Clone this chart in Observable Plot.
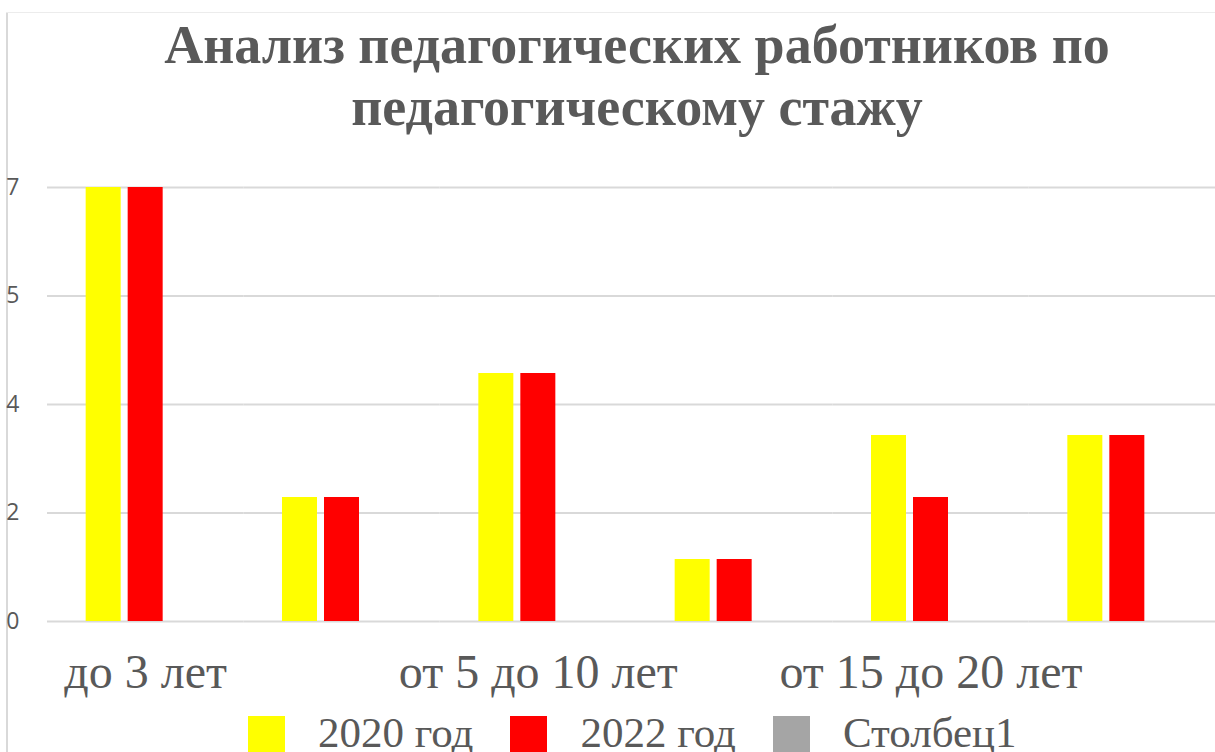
<!DOCTYPE html>
<html>
<head>
<meta charset="utf-8">
<script src="https://cdn.jsdelivr.net/npm/d3@7"></script>
<script src="https://cdn.jsdelivr.net/npm/@observablehq/plot@0.6"></script>
<style>
  html, body { margin: 0; padding: 0; background: #fff; overflow: hidden; }
  #root { position: relative; width: 1215px; height: 752px; overflow: hidden; }
  #title { position: absolute; left: 137px; width: 1000px; top: 14px; text-align: center;
    font-family: "Liberation Serif", "Times New Roman", serif; font-weight: bold; font-size: 54px;
    line-height: 62px; color: #595959; }
  #chart { position: absolute; left: 0; top: 140px; }
  #legend { position: absolute; left: 248px; top: 716px; display: flex; align-items: flex-start; }
  .item { display: flex; align-items: flex-start; margin-right: 37px; }
  .sw { width: 37px; height: 37px; margin-right: 33px; }
  .lab { font-family: "Liberation Serif", "Times New Roman", serif; font-size: 43px; line-height: 43px;
    color: #595959; margin-top: -5px; white-space: nowrap; }
  #bl { position: absolute; left: 6px; top: 12px; width: 2px; height: 740px; background: #d9d9d9; }
  #bt { position: absolute; left: 6px; top: 12px; width: 1209px; height: 1px; background: #ececec; }
</style>
</head>
<body>
<div id="root">
  <div id="bl"></div>
  <div id="bt"></div>
  <div id="title">Анализ педагогических работников по<br>педагогическому стажу</div>
  <div id="chart"></div>
  <div id="legend"></div>
</div>
<script>
const categories = ["до 3 лет", "от 3 до 5 лет", "от 5 до 10 лет", "от 10 до 15 лет", "от 15 до 20 лет", "свыше 20 лет"];
const shownCategoryLabels = ["до 3 лет", "от 5 до 10 лет", "от 15 до 20 лет"];
const seriesNames = ["2020 год", "2022 год", "Столбец1"];
const seriesColors = ["#ffff00", "#ff0000", "#a5a5a5"];
const values2020 = [7, 2, 4, 1, 3, 3];
const values2022 = [7, 2, 4, 1, 2, 3];
const yTickValues = [0, 1.75, 3.5, 5.25, 7];
const yTickLabels = ["0", "2", "4", "5", "7"];

const data = [];
categories.forEach((c, i) => {
  data.push({cat: c, series: seriesNames[0], value: values2020[i]});
  data.push({cat: c, series: seriesNames[1], value: values2022[i]});
});

const chart = Plot.plot({
  width: 1225,
  height: 580,
  marginLeft: 47,
  marginRight: 0,
  marginTop: 47,
  marginBottom: 99,
  style: {maxWidth: "none", overflow: "visible", background: "transparent"},
  fx: {domain: categories, padding: 0, round: false, axis: null},
  x: {domain: seriesNames, paddingInner: 1/6, paddingOuter: 0.9206, round: false, axis: null},
  y: {domain: [0, 7], axis: null},
  color: {domain: seriesNames, range: seriesColors},
  marks: [
    Plot.gridY(yTickValues, {stroke: "#d9d9d9", strokeWidth: 2, strokeOpacity: 1}),
    Plot.barY(data, {fx: "cat", x: "series", y: "value", fill: "series"}),
    Plot.axisY({
      ticks: yTickValues, tickSize: 0, tickPadding: 28,
      tickFormat: d => yTickLabels[yTickValues.indexOf(d)],
      fontSize: 23, fontFamily: "'Open Sans', 'Noto Sans', sans-serif", fill: "#595959", label: null
    }),
    Plot.axisFx({
      anchor: "bottom", tickSize: 0, tickPadding: 32, label: null,
      tickFormat: d => shownCategoryLabels.includes(d) ? d : "",
      fontSize: 48, fontFamily: "'Liberation Serif', 'Times New Roman', serif", fill: "#595959"
    })
  ]
});
document.getElementById("chart").appendChild(chart);

const legend = document.getElementById("legend");
seriesNames.forEach((s, i) => {
  const item = document.createElement("div");
  item.className = "item";
  const sw = document.createElement("div");
  sw.className = "sw";
  sw.style.background = seriesColors[i];
  const lab = document.createElement("span");
  lab.className = "lab";
  lab.textContent = s;
  item.appendChild(sw);
  item.appendChild(lab);
  legend.appendChild(item);
});
</script>
</body>
</html>
